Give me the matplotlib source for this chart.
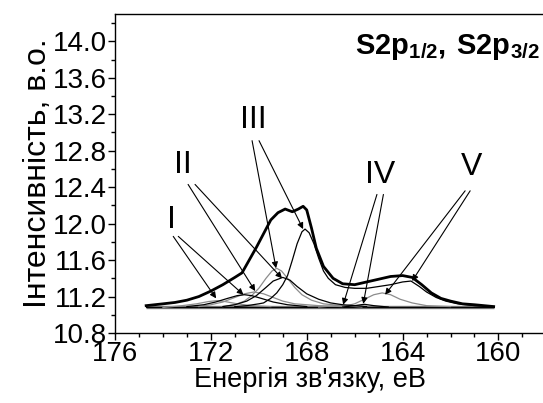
import matplotlib
matplotlib.use("Agg")
import matplotlib.pyplot as plt
from matplotlib.ticker import MultipleLocator

plt.rcParams["font.family"] = ["Liberation Sans", "DejaVu Sans"]
plt.rcParams["mathtext.fontset"] = "custom"
plt.rcParams["mathtext.rm"] = "Liberation Sans"
plt.rcParams["mathtext.bf"] = "Liberation Sans:bold"

# binding energy (eV) / intensity (a.u.)
env_e = [174.7, 174.0, 173.5, 173.0, 172.5, 172.0, 171.5, 171.0, 170.7, 170.4, 170.1,
         169.8, 169.5, 169.2, 168.9, 168.6, 168.35, 168.15, 168.0, 167.8, 167.6, 167.3,
         166.9, 166.5, 166.0, 165.5, 165.0, 164.5, 164.0, 163.6, 163.2, 162.8, 162.4,
         162.0, 161.5, 161.0, 160.2]
env_i = [11.10, 11.12, 11.135, 11.16, 11.20, 11.26, 11.33, 11.41, 11.46, 11.60, 11.74,
         11.89, 12.04, 12.12, 12.16, 12.13, 12.16, 12.19, 12.15, 11.95, 11.73, 11.53,
         11.40, 11.34, 11.33, 11.36, 11.39, 11.42, 11.43, 11.41, 11.33, 11.24, 11.18,
         11.15, 11.12, 11.11, 11.09]

# III 2p3/2 with the V-region sum (thin dark)
c3_e = [171.0, 170.5, 170.0, 169.8, 169.5, 169.25, 169.0, 168.8, 168.6, 168.4, 168.2,
        168.07, 167.9, 167.7, 167.5, 167.3, 167.1, 166.8, 166.4, 166.0, 165.5, 165.0,
        164.5, 164.0, 163.65, 163.3, 163.0, 162.6, 162.2, 161.7, 161.0, 160.2]
c3_i = [11.09, 11.10, 11.12, 11.13, 11.18, 11.24, 11.33, 11.43, 11.60, 11.78, 11.91,
        11.94, 11.90, 11.78, 11.62, 11.48, 11.40, 11.33, 11.30, 11.29, 11.29, 11.31,
        11.33, 11.36, 11.37, 11.31, 11.25, 11.19, 11.15, 11.12, 11.10, 11.09]

# III 2p1/2 (gray)
c3h_e = [171.5, 171.0, 170.6, 170.3, 170.0, 169.7, 169.45, 169.25, 169.05, 168.8, 168.5,
         168.2, 167.8, 167.3, 166.5, 165.5]
c3h_i = [11.09, 11.11, 11.15, 11.21, 11.29, 11.40, 11.48, 11.51, 11.48, 11.40, 11.30,
         11.22, 11.16, 11.12, 11.10, 11.09]

# II 2p3/2 (dark)
c2_e = [171.5, 171.0, 170.5, 170.1, 169.7, 169.4, 169.0, 168.7, 168.4, 168.0, 167.5,
        167.0, 166.5, 165.5]
c2_i = [11.09, 11.11, 11.15, 11.21, 11.30, 11.37, 11.41, 11.38, 11.31, 11.23, 11.17,
        11.13, 11.11, 11.09]

# II 2p1/2 (gray)
c2h_e = [172.5, 172.0, 171.5, 171.0, 170.6, 170.2, 169.8, 169.4, 169.0, 168.5, 167.5, 166.5]
c2h_i = [11.09, 11.11, 11.14, 11.19, 11.23, 11.25, 11.23, 11.19, 11.15, 11.12, 11.10, 11.09]

# I 2p3/2 (dark)
c1_e = [173.0, 172.3, 171.8, 171.3, 170.9, 170.6, 170.3, 169.9, 169.4, 168.8, 168.0]
c1_i = [11.09, 11.11, 11.14, 11.18, 11.21, 11.22, 11.21, 11.18, 11.14, 11.11, 11.09]

# I 2p1/2 (gray)
c1h_e = [174.0, 173.2, 172.6, 172.1, 171.75, 171.4, 170.9, 170.3, 169.5]
c1h_i = [11.08, 11.10, 11.12, 11.145, 11.155, 11.145, 11.12, 11.10, 11.09]

# IV (tiny)
c4h_e = [167.5, 167.0, 166.6, 166.2, 165.7]
c4h_i = [11.085, 11.095, 11.105, 11.095, 11.085]
c4_e = [166.5, 166.0, 165.6, 165.2, 164.6]
c4_i = [11.085, 11.10, 11.115, 11.10, 11.085]

# V 2p1/2 (gray)
c5h_e = [166.5, 166.0, 165.6, 165.2, 164.85, 164.5, 164.1, 163.6, 163.0, 162.0]
c5h_i = [11.09, 11.12, 11.17, 11.22, 11.24, 11.22, 11.17, 11.13, 11.10, 11.09]

base_e = [174.7, 160.2]
base_i = [11.08, 11.08]

# label text, label position, arrow tails and heads
labels = ["I", "II", "III", "IV", "V"]
label_xy = [(173.64, 12.04), (173.15, 12.64), (170.24, 13.14), (164.94, 12.53), (161.11, 12.62)]
arrows = [
    [((173.57, 11.86), (171.78, 11.18)), ((173.36, 11.86), (170.64, 11.22))],
    [((172.95, 12.43), (170.15, 11.26)), ((172.66, 12.43), (169.03, 11.40))],
    [((170.28, 12.91), (169.28, 11.51)), ((169.99, 12.91), (168.15, 11.94))],
    [((165.07, 12.32), (166.48, 11.11)), ((164.80, 12.32), (165.64, 11.12))],
    [((161.39, 12.36), (164.73, 11.22)), ((161.18, 12.36), (163.60, 11.37))],
]

fig = plt.figure(figsize=(5.43, 4.03), dpi=100)
ax = fig.add_axes([0.2118, 0.1737, 0.7944, 0.7916])

ax.plot(base_e, base_i, color="#6e6e6e", lw=2.4, solid_capstyle="butt")
ax.plot(base_e, [v + 0.006 for v in base_i], color="k", lw=0.7)
gray = "#8c8c8c"
for e, i in [(c1h_e, c1h_i), (c2h_e, c2h_i), (c3h_e, c3h_i), (c4h_e, c4h_i), (c5h_e, c5h_i)]:
    ax.plot(e, i, color=gray, lw=0.9)
for e, i in [(c1_e, c1_i), (c2_e, c2_i), (c3_e, c3_i), (c4_e, c4_i)]:
    ax.plot(e, i, color="k", lw=0.9)
ax.plot(env_e, env_i, color="k", lw=2.0)

for lab, (lx, ly), arrs in zip(labels, label_xy, arrows):
    ax.text(lx, ly, lab, fontsize=23, ha="center", va="center")
    for tail, head in arrs:
        ax.annotate("", xy=head, xytext=tail,
                    arrowprops=dict(arrowstyle="-|>", color="k", lw=0.8,
                                    mutation_scale=9, shrinkA=0, shrinkB=0))

fig.text(0.993, 0.92, r"$\mathbf{S2p}_{\mathbf{1/2}}\mathbf{,\!\ S2p}_{\mathbf{3/2}}$",
         fontsize=21, ha="right", va="top")

ax.set_xlim(176, 158)
ax.set_ylim(10.8, 14.3)
ax.xaxis.set_major_locator(MultipleLocator(4))
ax.xaxis.set_minor_locator(MultipleLocator(1))
ax.yaxis.set_major_locator(MultipleLocator(0.4))
ax.yaxis.set_minor_locator(MultipleLocator(0.2))
ax.yaxis.set_major_formatter(plt.FormatStrFormatter("%.1f"))
ax.tick_params(which="major", direction="out", length=5, width=1, labelsize=20, pad=1)
ax.tick_params(which="minor", direction="out", length=3, width=1)
ax.spines["right"].set_visible(False)
for s in ["left", "bottom", "top"]:
    ax.spines[s].set_linewidth(1.0)

ax.set_xlabel("Енергія зв'язку, еВ", fontsize=19.5)
ax.xaxis.set_label_coords(0.452, -0.108)
ax.set_ylabel("Інтенсивність, в.о.", fontsize=23, labelpad=0)

fig.savefig("out.png", dpi=100)
